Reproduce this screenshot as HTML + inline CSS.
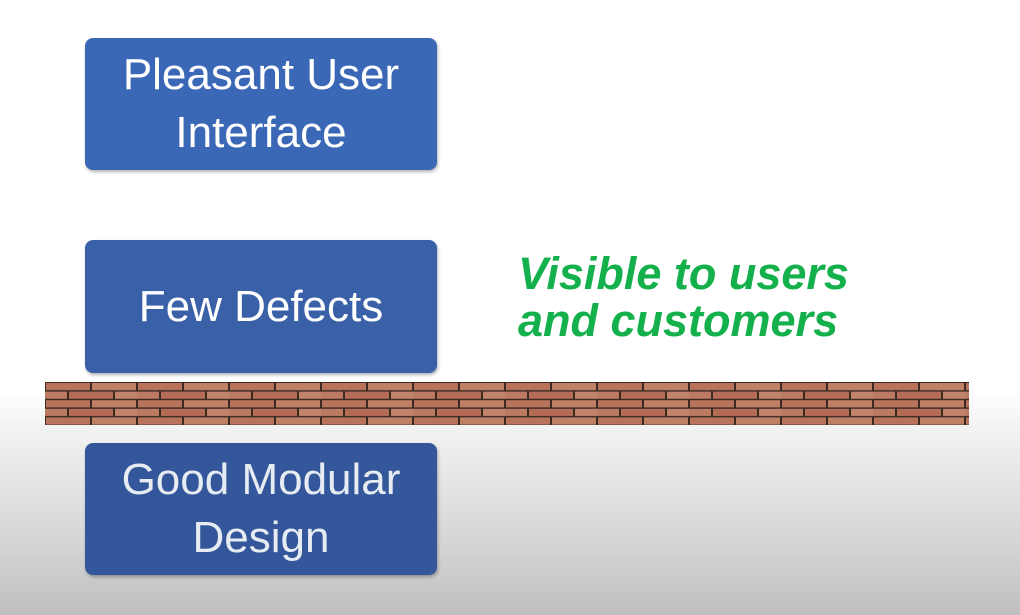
<!DOCTYPE html>
<html><head><style>
html,body{margin:0;padding:0}
body{width:1020px;height:615px;position:relative;overflow:hidden;font-family:"Liberation Sans",sans-serif;
background:linear-gradient(to bottom,#fff 0px,#fff 390px,#f2f2f2 430px,#d6d6d6 540px,#bfbfbf 615px);}
.box{position:absolute;left:85px;width:352px;border-radius:8px;color:#fff;display:flex;align-items:center;justify-content:center;text-align:center;font-size:44px;line-height:58px;box-shadow:1px 2px 3px rgba(0,0,0,0.3)}
.g{position:absolute;left:518px;color:#14b04c;font-style:italic;font-weight:bold;font-size:45px;line-height:47px}
</style></head><body>
<div class="box" style="top:38px;height:132px;background:#3b68b6">Pleasant User<br>Interface</div>
<div class="box" style="top:240px;height:133px;background:#3a61a8">Few Defects</div>
<div class="box" style="top:443px;height:132px;background:#33579a;color:#e6ecf2">Good Modular<br>Design</div>
<div class="g" style="top:250px">Visible to users<br>and customers</div>
<svg style="position:absolute;left:45px;top:382px" width="924" height="43">
<defs><pattern id="b" width="92" height="17.2" patternUnits="userSpaceOnUse">
<rect width="92" height="17.2" fill="#3a2a22"/>
<rect x="1" y="1" width="44" height="7.2" fill="#b8735d"/>
<rect x="47" y="1" width="44" height="7.2" fill="#c08068"/>
<rect x="-22" y="9.6" width="44" height="7.2" fill="#bc7a62"/>
<rect x="24" y="9.6" width="44" height="7.2" fill="#b56c56"/>
<rect x="70" y="9.6" width="44" height="7.2" fill="#c2836b"/>
</pattern></defs>
<rect width="924" height="43" fill="url(#b)"/>
</svg>
</body></html>
